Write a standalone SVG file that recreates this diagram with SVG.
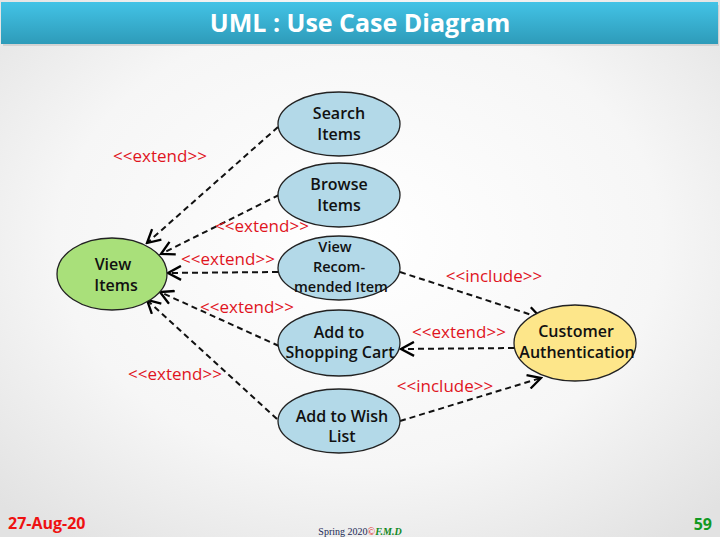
<svg xmlns="http://www.w3.org/2000/svg" width="720" height="537" viewBox="0 0 720 537">
<defs>
<radialGradient id="bg" cx="50%" cy="45%" r="70%">
<stop offset="0" stop-color="#ffffff"/>
<stop offset="0.6" stop-color="#f6f6f6"/>
<stop offset="1" stop-color="#e2e2e2"/>
</radialGradient>
<linearGradient id="title" x1="0" y1="0" x2="0" y2="1">
<stop offset="0" stop-color="#43c3e6"/>
<stop offset="1" stop-color="#2e9bb9"/>
</linearGradient>
<marker id="arr" markerUnits="userSpaceOnUse" viewBox="0 0 16 16" refX="14" refY="8" markerWidth="16" markerHeight="16" orient="auto">
<path d="M1,1 L14,8 L1,15" fill="none" stroke="#000" stroke-width="2.3"/>
</marker>
</defs>
<style>
.uc{fill:#b3d9e8;stroke:#222;stroke-width:1.3}
.green{fill:#a9e07a}
.yellow{fill:#fde68a}
.nt{font-family:"Open Sans","Liberation Sans",sans-serif;font-weight:600;font-size:16px;fill:#111;text-anchor:middle}
.sm{font-size:14.5px}
.lbl{font-family:"Open Sans","Liberation Sans",sans-serif;font-size:17px;fill:#e0141e;text-anchor:middle}
.dash{fill:none;stroke:#111;stroke-width:2;stroke-dasharray:6,4;marker-end:url(#arr)}
</style>
<rect width="720" height="537" fill="url(#bg)"/>
<g id="title-bar">
<rect x="3" y="5" width="716" height="41" fill="#bbb" opacity="0.5"/>
<rect x="1" y="2" width="717" height="42" fill="url(#title)"/>
<text x="360" y="32" font-family="Open Sans,Liberation Sans,sans-serif" font-weight="700" font-size="25" fill="#fff" text-anchor="middle">UML : Use Case Diagram</text>
</g>
<g id="connectors">
<path class="dash" d="M278,127 L147,243"/>
<path class="dash" d="M279,195 L161,254"/>
<path class="dash" d="M278,272 L168,273"/>
<path class="dash" d="M279,346 L160,292"/>
<path class="dash" d="M277,419 L147,300"/>
<path class="dash" d="M400,272 L541,318"/>
<path class="dash" d="M514,348 L401,349"/>
<path class="dash" d="M400,421 L541,378"/>
<text class="lbl" x="160" y="162">&lt;&lt;extend&gt;&gt;</text>
<text class="lbl" x="262" y="232">&lt;&lt;extend&gt;&gt;</text>
<text class="lbl" x="228" y="265">&lt;&lt;extend&gt;&gt;</text>
<text class="lbl" x="247" y="313">&lt;&lt;extend&gt;&gt;</text>
<text class="lbl" x="175" y="380">&lt;&lt;extend&gt;&gt;</text>
<text class="lbl" x="494" y="282">&lt;&lt;include&gt;&gt;</text>
<text class="lbl" x="459" y="338">&lt;&lt;extend&gt;&gt;</text>
<text class="lbl" x="445" y="392">&lt;&lt;include&gt;&gt;</text>
</g>
<g id="search-items">
<ellipse class="uc" cx="339" cy="124" rx="61" ry="32"/>
<text class="nt" x="339" y="119">Search</text>
<text class="nt" x="339" y="140">Items</text>
</g>
<g id="browse-items">
<ellipse class="uc" cx="339" cy="195" rx="61" ry="32"/>
<text class="nt" x="339" y="190">Browse</text>
<text class="nt" x="339" y="211">Items</text>
</g>
<g id="view-recommended">
<ellipse class="uc" cx="339" cy="268" rx="61" ry="32"/>
<text class="nt sm" x="335" y="252">View</text>
<text class="nt sm" x="339" y="272">Recom-</text>
<text class="nt sm" x="341" y="292">mended Item</text>
</g>
<g id="add-to-cart">
<ellipse class="uc" cx="339" cy="343" rx="61" ry="33"/>
<text class="nt" x="339" y="338">Add to</text>
<text class="nt" x="340" y="358">Shopping Cart</text>
</g>
<g id="add-to-wish">
<ellipse class="uc" cx="339" cy="421" rx="61" ry="32"/>
<text class="nt" x="342" y="422">Add to Wish</text>
<text class="nt" x="342" y="442">List</text>
</g>
<g id="view-items">
<ellipse class="uc green" cx="112" cy="274" rx="55" ry="36"/>
<text class="nt" x="113" y="270">View</text>
<text class="nt" x="116" y="291">Items</text>
</g>
<g id="customer-auth">
<ellipse class="uc yellow" cx="575" cy="343" rx="61" ry="38"/>
<text class="nt" x="576" y="337">Customer</text>
<text class="nt" x="577" y="358">Authentication</text>
</g>
<g id="footer">
<text x="8" y="529" font-family="Open Sans,Liberation Sans,sans-serif" font-weight="700" font-size="16" fill="#ee1111">27-Aug-20</text>
<text x="712" y="530" font-family="Open Sans,Liberation Sans,sans-serif" font-weight="700" font-size="16" fill="#119922" text-anchor="end">59</text>
<text x="360" y="535" font-family="Liberation Serif,serif" font-size="10" fill="#1a2a55" text-anchor="middle">Spring  2020<tspan fill="#dd1111">©</tspan><tspan fill="#118822" font-weight="700" font-style="italic">F.M.D</tspan></text>
</g>
</svg>
